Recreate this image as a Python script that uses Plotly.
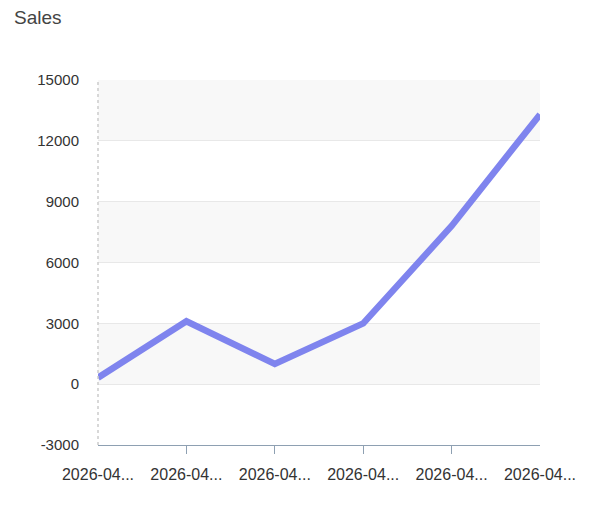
import plotly.graph_objects as go

categories = ["2026-04-01", "2026-04-02", "2026-04-03", "2026-04-04", "2026-04-05", "2026-04-06"]
tick_labels = ["2026-04...", "2026-04...", "2026-04...", "2026-04...", "2026-04...", "2026-04..."]
sales = [320, 3100, 1000, 3000, 7800, 13300]
y_ticks = [-3000, 0, 3000, 6000, 9000, 12000, 15000]
bands = [(0, 3000), (6000, 9000), (12000, 15000)]

fig = go.Figure()
fig.add_trace(go.Scatter(
    x=list(range(len(categories))), y=sales, mode="lines",
    line=dict(color="#7f84ee", width=6.5), hoverinfo="y", showlegend=False,
))

shapes = []
for lo, hi in bands:
    shapes.append(dict(type="rect", xref="paper", yref="y", x0=0, x1=1, y0=lo, y1=hi,
                       fillcolor="#f8f8f8", line=dict(width=0), layer="below"))
shapes.append(dict(type="line", xref="paper", yref="paper", x0=0, x1=0, y0=0, y1=1,
                   line=dict(color="#cccccc", width=1.5, dash="dot")))

fig.update_layout(
    width=600, height=505,
    margin=dict(l=90, r=68, t=72, b=68),
    paper_bgcolor="white", plot_bgcolor="white",
    font=dict(family="Liberation Sans, Arial, sans-serif", size=15, color="#333333"),
    title=dict(text="Sales", x=0, xref="container", xanchor="left", y=1, yref="container",
               yanchor="top", pad=dict(l=6, t=3), font=dict(size=19, color="#444444")),
    shapes=shapes,
    xaxis=dict(
        range=[0, len(categories) - 1],
        tickmode="array", tickvals=list(range(len(categories))), ticktext=tick_labels,
        showgrid=False, zeroline=False, showline=True, linecolor="#8ea0b2", linewidth=1.2,
        ticks="", ticklabelstandoff=15, fixedrange=True,
        tickfont=dict(size=16, color="#333333"),
    ),
    xaxis2=dict(
        overlaying="x", matches="x", range=[0, len(categories) - 1],
        tickmode="array", tickvals=list(range(1, len(categories) - 1)),
        showticklabels=False, ticks="outside", ticklen=8, tickcolor="#8ea0b2", tickwidth=1.2,
        showgrid=False, zeroline=False, showline=False, side="bottom",
    ),
    yaxis=dict(
        range=[-3000, 15000], tickmode="array", tickvals=y_ticks,
        ticktext=[str(v) for v in y_ticks],
        showgrid=True, gridcolor="#e8e8e8", gridwidth=1, zeroline=False,
        showline=False, ticks="", ticklabelstandoff=18,
        tickfont=dict(size=15, color="#333333"),
    ),
)
fig.add_trace(go.Scatter(x=[0], y=[None], xaxis="x2", showlegend=False, hoverinfo="skip"))

fig.write_html("out.html")
